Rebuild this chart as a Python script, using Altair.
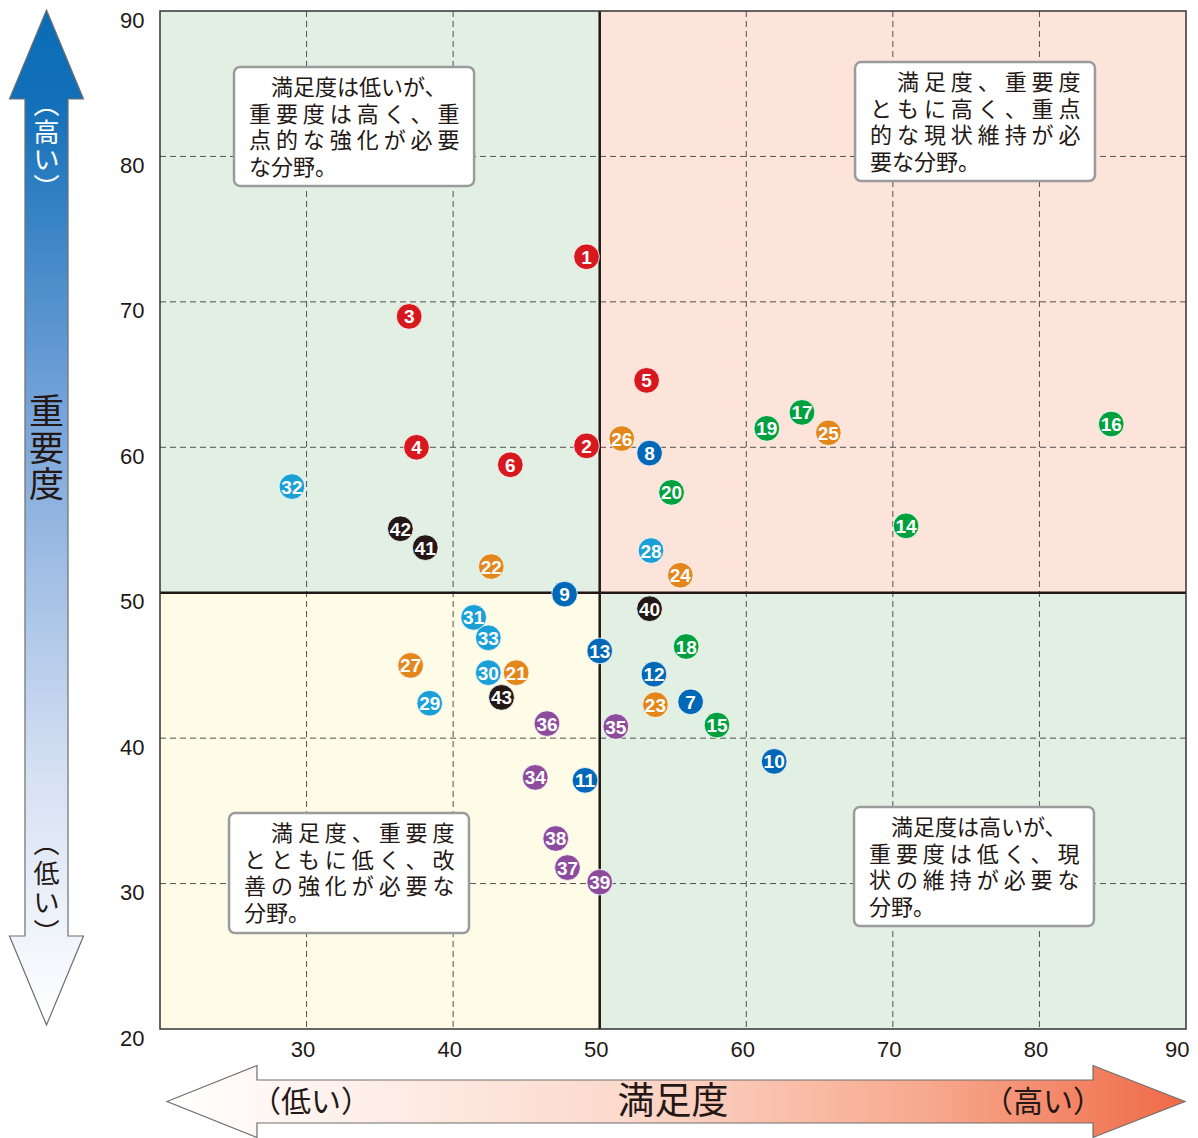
import altair as alt
import pandas as pd

# ---------------- data ----------------
ids = [str(i) for i in range(1, 44)]
satisfaction = [49.1, 49.1, 37.0, 37.5, 53.2, 43.9, 56.2, 53.4, 47.6, 61.9,
                49.0, 53.7, 50.0, 70.9, 58.0, 84.9, 63.8, 55.9, 61.4, 54.9,
                44.3, 42.6, 53.8, 55.5, 65.6, 51.5, 37.1, 53.5, 38.4, 42.4,
                41.4, 29.0, 42.4, 45.6, 51.1, 46.4, 47.8, 47.0, 50.0, 53.4,
                38.1, 36.4, 43.3]
importance = [73.1, 60.1, 69.0, 60.0, 64.6, 58.8, 42.5, 59.6, 49.9, 38.4,
              37.1, 44.4, 46.0, 54.6, 40.9, 61.6, 62.4, 46.3, 61.3, 56.9,
              44.5, 51.8, 42.3, 51.2, 61.0, 60.6, 45.0, 52.9, 42.4, 44.5,
              48.3, 57.3, 46.9, 37.3, 40.8, 41.0, 31.1, 33.1, 30.1, 48.9,
              53.1, 54.4, 42.8]
point_group = (["red"] * 6 + ["blue"] * 7 + ["green"] * 7 + ["orange"] * 7
               + ["cyan"] * 6 + ["purple"] * 6 + ["black"] * 4)
group_names = ["red", "blue", "green", "orange", "cyan", "purple", "black"]
group_colors = ["#d7191f", "#0068b7", "#00a03e", "#e3871d", "#1a9fd6", "#8d4b9b", "#231815"]

x_ticks = [30, 40, 50, 60, 70, 80, 90]
y_ticks = [20, 30, 40, 50, 60, 70, 80, 90]
grid_values = [30, 40, 60, 70, 80]
mid_value = [50]

quad_x1 = [20, 50, 20, 50]
quad_x2 = [50, 90, 50, 90]
quad_y1 = [50, 50, 20, 20]
quad_y2 = [90, 90, 50, 50]
quad_colors = ["#e2f0e4", "#fde4da", "#fefbe7", "#e2f0e4"]

box_x1 = [25.05, 67.42, 24.71, 67.35]
box_x2 = [41.43, 83.79, 41.08, 83.72]
box_y_top = [86.15, 86.49, 34.85, 35.27]
box_y_bottom = [77.97, 78.31, 26.60, 27.08]
box_lines = [
    ["　満足度は低いが、", "重要度は高く、重", "点的な強化が必要", "な分野。"],
    ["　満足度、重要度", "ともに高く、重点", "的な現状維持が必", "要な分野。"],
    ["　満足度、重要度", "とともに低く、改", "善の強化が必要な", "分野。"],
    ["　満足度は高いが、", "重要度は低く、現", "状の維持が必要な", "分野。"],
]
box_spaced = [
    [False, True, True, False],
    [True, True, True, False],
    [True, True, True, False],
    [False, True, True, False],
]

y_label_top = ["︵", "高", "い", "︶"]
y_label_mid = ["重", "要", "度"]
y_label_bottom = ["︵", "低", "い", "︶"]
x_label_left = "（低い）"
x_label_mid = "満足度"
x_label_right = "（高い）"

# ---------------- helpers ----------------
INK = "#231815"
xs = alt.Scale(domain=[20, 90], nice=False, zero=False)
ys = alt.Scale(domain=[20, 90], nice=False, zero=False)
x_axis = alt.Axis(values=x_ticks, grid=False, domain=False, ticks=False,
                  labelFontSize=22, labelFont="Liberation Sans", labelColor=INK,
                  labelPadding=10,
                  labelAlign={"condition": {"test": "datum.value == 90", "value": "right"},
                              "value": "center"},
                  labelOffset={"condition": {"test": "datum.value == 90", "value": 3},
                               "value": -4},
                  labelFlush=False, labelOverlap=False, title=None)
y_axis = alt.Axis(values=y_ticks, grid=False, domain=False, ticks=False,
                  labelFontSize=22, labelFont="Liberation Sans", labelColor=INK,
                  labelPadding=16, labelOffset=9, labelFlush=False,
                  labelOverlap=False, title=None)


def X(f):
    return alt.X(f, type="quantitative", scale=xs, axis=x_axis)


def Y(f):
    return alt.Y(f, type="quantitative", scale=ys, axis=y_axis)


def fmt_line(line, spaced):
    indent = line.startswith("　")
    body = line[1:] if indent else line
    if spaced:
        body = " ".join(body)
    if indent:
        # zero-width lead keeps the ideographic indent from being trimmed
        body = "\u200b　" + (" " if spaced else "") + body
    return body


pts = pd.DataFrame({"id": ids, "sat": satisfaction, "imp": importance, "grp": point_group})
quads = pd.DataFrame({"x1": quad_x1, "x2": quad_x2, "y1": quad_y1, "y2": quad_y2, "c": quad_colors})
grid_df = pd.DataFrame({"v": grid_values})
mid_df = pd.DataFrame({"v": mid_value})
boxes = pd.DataFrame({
    "x1": box_x1, "x2": box_x2, "yt": box_y_top, "yb": box_y_bottom,
    "txt": ["\n".join(fmt_line(l, s) for l, s in zip(lines, sp))
            for lines, sp in zip(box_lines, box_spaced)],
})
one = pd.DataFrame({"a": [0]})

W, H = 1026, 1018

quad_layer = alt.Chart(quads).mark_rect().encode(
    x=X("x1"), x2="x2", y=Y("y1"), y2="y2", color=alt.Color("c:N", scale=None))

vgrid = alt.Chart(grid_df).mark_rule(stroke="#505050", strokeDash=[6, 4], strokeWidth=1).encode(x=X("v"))
hgrid = alt.Chart(grid_df).mark_rule(stroke="#505050", strokeDash=[6, 4], strokeWidth=1).encode(y=Y("v"))
vmid = alt.Chart(mid_df).mark_rule(stroke=INK, strokeWidth=2.5).encode(x=X("v"))
hmid = alt.Chart(mid_df).mark_rule(stroke=INK, strokeWidth=2.5).encode(y=Y("v"))

border = alt.Chart(one).mark_rect(fillOpacity=0, stroke="#333333", strokeWidth=1.5).encode(
    x=alt.value(0), x2=alt.value(W), y=alt.value(0), y2=alt.value(H))

box_layer = alt.Chart(boxes).mark_rect(fill="white", stroke="#9b9b9b", strokeWidth=2.5,
                                       cornerRadius=6).encode(
    x=X("x1"), x2="x2", y=Y("yt"), y2="yb")
box_text = alt.Chart(boxes).mark_text(
    align="left", baseline="top", dx=15, dy=11, fontSize=22, font="Noto Sans CJK JP",
    lineBreak="\n", lineHeight=26.7, color=INK).encode(
    x=X("x1"), y=Y("yt"), text="txt:N")

circles = alt.Chart(pts).mark_circle(size=660, opacity=1, stroke="white", strokeWidth=0.8).encode(
    x=X("sat"), y=Y("imp"),
    color=alt.Color("grp:N", scale=alt.Scale(domain=group_names, range=group_colors), legend=None))
labels = alt.Chart(pts).mark_text(
    color="white", fontSize=19, fontWeight="bold", font="Liberation Sans",
    baseline="middle", dy=1).encode(x=X("sat"), y=Y("imp"), text="id:N")

# arrows
v_path = ("M0,-1 L0.0729,-0.8246 L0.0424,-0.8246 L0.0424,0.8246 L0.0729,0.8246 "
          "L0,1 L-0.0729,0.8246 L-0.0424,0.8246 L-0.0424,-0.8246 L-0.0729,-0.8246 Z")
h_path = ("M-1,0 L-0.8232,-0.0707 L-0.8232,-0.0422 L0.8193,-0.0422 L0.8193,-0.0707 "
          "L1,0 L0.8193,0.0707 L0.8193,0.0422 L-0.8232,0.0422 L-0.8232,0.0707 Z")
v_grad = alt.LinearGradient(gradient="linear", x1=0, y1=0, x2=0, y2=1, stops=[
    alt.GradientStop(offset=0, color="#0a6cb6"),
    alt.GradientStop(offset=0.09, color="#1270b9"),
    alt.GradientStop(offset=0.4, color="#78a4d9"),
    alt.GradientStop(offset=0.75, color="#d5e0f3"),
    alt.GradientStop(offset=1, color="#ffffff"),
])
h_grad = alt.LinearGradient(gradient="linear", x1=0, y1=0, x2=1, y2=0, stops=[
    alt.GradientStop(offset=0, color="#ffffff"),
    alt.GradientStop(offset=0.45, color="#fcd9cc"),
    alt.GradientStop(offset=0.75, color="#f7a88d"),
    alt.GradientStop(offset=1, color="#ef6a47"),
])
v_arrow = alt.Chart(one).mark_point(shape=v_path, size=1015 ** 2, filled=True, fill=v_grad,
                                    stroke="#6f6f6f", strokeWidth=1.2, opacity=1).encode(
    x=alt.value(46.5 - 160), y=alt.value(517.5 - 11))
h_arrow = alt.Chart(one).mark_point(shape=h_path, size=1018 ** 2, filled=True, fill=h_grad,
                                    stroke="#6f6f6f", strokeWidth=1.2, opacity=1).encode(
    x=alt.value(676 - 160), y=alt.value(1101.5 - 11))


def vtext(chars, y_first, size, lh, color):
    # y_first: centre of the first stacked character (later ones go downward)
    return alt.Chart(one).mark_text(
        text="\n".join(chars), lineBreak="\n", lineHeight=lh, fontSize=size,
        font="Noto Sans CJK JP", color=color, align="center", baseline="middle").encode(
        x=alt.value(46.5 - 160), y=alt.value(y_first - 11))


def htext(txt, x, size):
    return alt.Chart(one).mark_text(
        text=txt, fontSize=size, font="Noto Sans CJK JP", color=INK,
        align="center", baseline="middle").encode(
        x=alt.value(x - 160), y=alt.value(1103 - 11))


arrow_texts = [
    vtext(y_label_top, 106, 26, 27.5, "white"),
    vtext(y_label_mid, 413, 35, 36.5, INK),
    vtext(y_label_bottom, 845, 26, 29.5, INK),
    htext(x_label_left, 311, 30),
    htext(x_label_mid, 673, 37),
    htext(x_label_right, 1043, 30),
]

chart = alt.layer(
    quad_layer, vgrid, hgrid, vmid, hmid, border, box_layer, box_text,
    circles, labels, v_arrow, h_arrow, *arrow_texts
).properties(
    width=W, height=H,
    autosize=alt.AutoSizeParams(type="none"),
    padding={"left": 152, "top": 3, "right": 4, "bottom": 112},
).configure_view(stroke=None)

chart.save("out.html", embed_options={"renderer": "svg", "actions": False})
